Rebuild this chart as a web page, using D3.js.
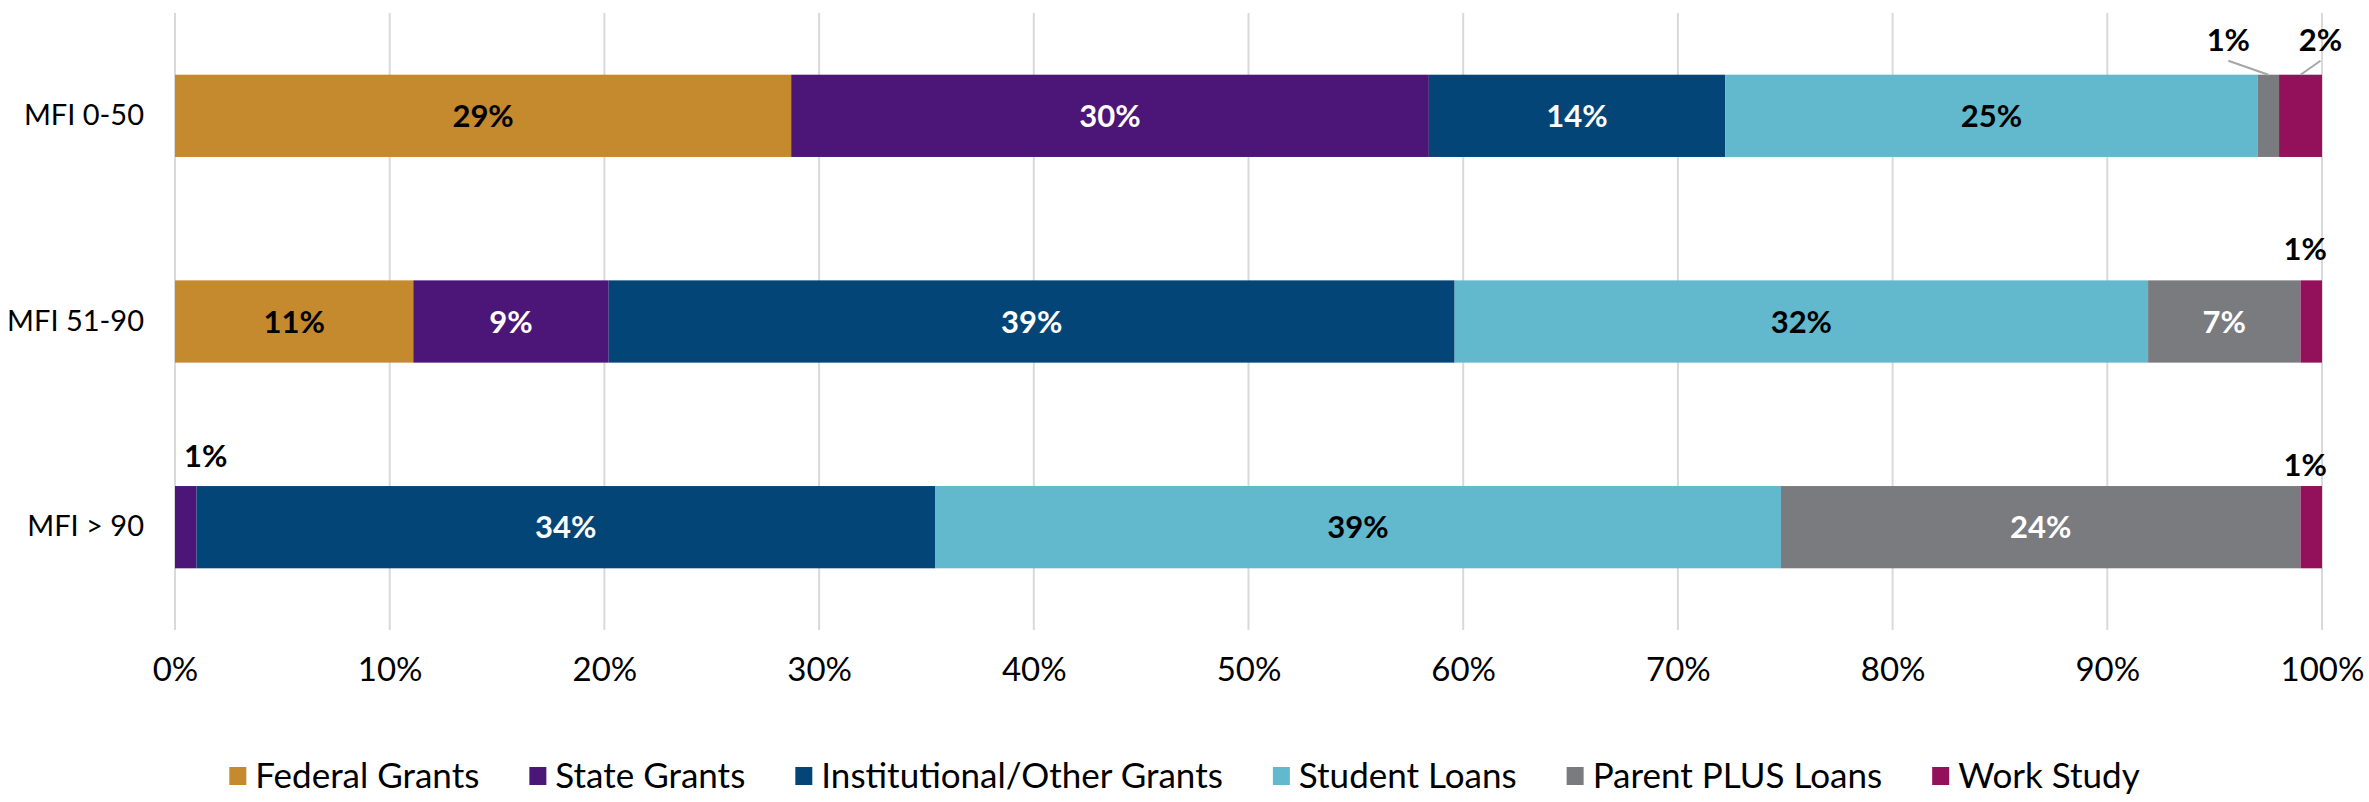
<!DOCTYPE html>
<html>
<head>
<meta charset="utf-8">
<style>
  body { margin: 0; background: #fff; }
  svg { display: block; font-family: Lato, "Open Sans", sans-serif; }
</style>
</head>
<body>
<svg width="2369" height="802"></svg>
<script src="https://d3js.org/d3.v7.min.js"></script>
<script>

const categories = ["MFI 0-50", "MFI 51-90", "MFI > 90"];
const seriesNames = ["Federal Grants", "State Grants", "Institutional/Other Grants",
                     "Student Loans", "Parent PLUS Loans", "Work Study"];
const seriesColors = ["#c5892e", "#4b1677", "#044577", "#62b8cd", "#7a7b7f", "#93105a"];
const labelColors = ["#000", "#fff", "#fff", "#000", "#fff", "#000"];

// percent of aid, per MFI group
const federalGrants = [28.7, 11.1, 0];
const stateGrants = [29.7, 9.1, 1.0];
const institutionalGrants = [13.8, 39.4, 34.4];
const studentLoans = [24.8, 32.3, 39.4];
const parentPlusLoans = [1.0, 7.1, 24.2];
const workStudy = [2.0, 1.0, 1.0];

const xTicks = [0, 10, 20, 30, 40, 50, 60, 70, 80, 90, 100];

// small segments get their label above the bar (dx, dy shift from segment centre / bar top)
const callouts = [
  { cat: 0, series: 4, dx: -40, dy: -24, leader: true },
  { cat: 0, series: 5, dx: 20, dy: -24, leader: true },
  { cat: 1, series: 5, dx: -6, dy: -20 },
  { cat: 2, series: 1, dx: 20, dy: -19 },
  { cat: 2, series: 5, dx: -6, dy: -10 }
];

const allSeries = [federalGrants, stateGrants, institutionalGrants, studentLoans, parentPlusLoans, workStudy];

const rows = categories.map((c, i) => {
  const r = { cat: c };
  seriesNames.forEach((s, j) => { r[s] = allSeries[j][i]; });
  return r;
});
const stacked = d3.stack().keys(seriesNames)(rows);

const svg = d3.select("svg");
const margin = { left: 175, right: 47, top: 13, bottom: 172 };
const W = 2369, H = 802;

const x = d3.scaleLinear().domain([0, 100]).range([margin.left, W - margin.right]);
const y = d3.scaleBand().domain(categories)
  .range([margin.top, H - margin.bottom])
  .paddingInner(0.6).paddingOuter(0.3);

// gridlines
svg.append("g")
  .selectAll("line")
  .data(xTicks)
  .enter()
  .append("line")
  .attr("x1", d => x(d)).attr("x2", d => x(d))
  .attr("y1", margin.top).attr("y2", H - margin.bottom)
  .attr("stroke", "#d9d9d9")
  .attr("stroke-width", 2);

// x axis labels
const xAxis = svg.append("g")
  .attr("transform", `translate(0,${H - margin.bottom + 25})`)
  .call(d3.axisBottom(x).tickValues(xTicks).tickFormat(d => d + "%").tickSize(0));
xAxis.select(".domain").remove();
xAxis.selectAll("text")
  .attr("font-size", 33)
  .attr("fill", "#000")
  .attr("font-family", "Lato, sans-serif");

// category labels
const yAxis = svg.append("g")
  .attr("transform", `translate(${margin.left - 28},0)`)
  .call(d3.axisLeft(y).tickSize(0));
yAxis.select(".domain").remove();
yAxis.selectAll("text")
  .attr("font-size", 29)
  .attr("fill", "#000")
  .attr("font-family", "Lato, sans-serif");

// bars
const layer = svg.append("g")
  .selectAll("g")
  .data(stacked)
  .enter()
  .append("g")
  .attr("fill", (d, i) => seriesColors[i]);

layer.selectAll("rect")
  .data(d => d)
  .enter()
  .append("rect")
  .attr("x", d => x(d[0]))
  .attr("width", d => x(d[1]) - x(d[0]))
  .attr("y", d => y(d.data.cat))
  .attr("height", y.bandwidth());

// labels inside bars
const inside = [];
stacked.forEach((s, j) => {
  s.forEach((d, i) => {
    const v = d[1] - d[0];
    if (v >= 3) inside.push({ j, d, v });
  });
});
svg.append("g")
  .selectAll("text")
  .data(inside)
  .enter()
  .append("text")
  .attr("x", o => x((o.d[0] + o.d[1]) / 2))
  .attr("y", o => y(o.d.data.cat) + y.bandwidth() / 2)
  .attr("dy", "0.36em")
  .attr("text-anchor", "middle")
  .attr("font-size", 31)
  .attr("font-weight", "bold")
  .attr("fill", o => labelColors[o.j])
  .text(o => Math.round(o.v) + "%");

// callout labels above bars
const outs = callouts.map(c => {
  const d = stacked[c.series][c.cat];
  const cx = x((d[0] + d[1]) / 2);
  const top = y(categories[c.cat]);
  return Object.assign({}, c, { d, cx, top, v: d[1] - d[0] });
});
svg.append("g")
  .selectAll("line")
  .data(outs.filter(o => o.leader))
  .enter()
  .append("line")
  .attr("x1", o => o.cx + o.dx).attr("y1", o => o.top + o.dy + 10)
  .attr("x2", o => o.cx).attr("y2", o => o.top)
  .attr("stroke", "#a6a6a6")
  .attr("stroke-width", 2);
svg.append("g")
  .selectAll("text")
  .data(outs)
  .enter()
  .append("text")
  .attr("x", o => o.cx + o.dx)
  .attr("y", o => o.top + o.dy)
  .attr("text-anchor", "middle")
  .attr("font-size", 31)
  .attr("font-weight", "bold")
  .attr("fill", "#000")
  .text(o => Math.round(o.v) + "%");

// legend, centred on the page
const legend = svg.append("g").attr("transform", `translate(0,${H - 14})`);
const items = legend.selectAll("g")
  .data(seriesNames)
  .enter()
  .append("g");
items.append("rect")
  .attr("y", -21).attr("width", 17).attr("height", 18)
  .attr("fill", (d, i) => seriesColors[i]);
items.append("text")
  .attr("x", 26)
  .attr("font-size", 35)
  .attr("fill", "#000")
  .text(d => d);
let pos = 0;
const gap = 50;
const offsets = [];
items.each(function() {
  offsets.push(pos);
  const w = d3.select(this).select("text").node().getComputedTextLength();
  pos += 26 + w + gap;
});
const total = pos - gap;
const start = W / 2 - total / 2;
items.attr("transform", (d, i) => `translate(${start + offsets[i]},0)`);

</script>
</body>
</html>
